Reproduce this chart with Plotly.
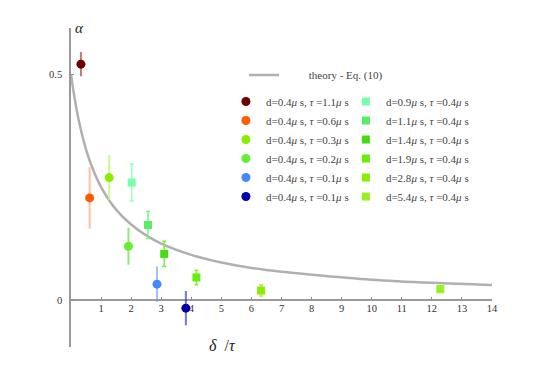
import plotly.graph_objects as go

# theory curve
theory_x = [0, 0.1, 0.25, 0.5, 0.75, 1, 1.5, 2, 2.5, 3, 4, 5, 6, 7, 8, 10, 12, 14]
theory_y = [0.5, 0.455, 0.4, 0.333, 0.286, 0.25, 0.2, 0.167, 0.143, 0.125,
            0.1, 0.083, 0.071, 0.0625, 0.056, 0.045, 0.038, 0.033]

# circles: d = 0.4 us, varying tau
circle_names = [
    "d=0.4<i>μ</i> s, <i>τ</i> =1.1<i>μ</i> s",
    "d=0.4<i>μ</i> s, <i>τ</i> =0.6<i>μ</i> s",
    "d=0.4<i>μ</i> s, <i>τ</i> =0.3<i>μ</i> s",
    "d=0.4<i>μ</i> s, <i>τ</i> =0.2<i>μ</i> s",
    "d=0.4<i>μ</i> s, <i>τ</i> =0.1<i>μ</i> s",
    "d=0.4<i>μ</i> s, <i>τ</i> =0.1<i>μ</i> s",
]
circle_x = [0.33, 0.62, 1.27, 1.91, 2.86, 3.82]
circle_y = [0.522, 0.226, 0.271, 0.119, 0.035, -0.018]
circle_err = [0.027, 0.068, 0.05, 0.041, 0.039, 0.038]
circle_colors = ["#6e0000", "#ff5a00", "#88ee00", "#66ee33", "#4488ff", "#0000aa"]
circle_err_colors = ["rgba(180,60,60,0.7)", "rgba(255,150,100,0.6)",
                     "rgba(190,245,120,0.8)", "rgba(110,230,80,0.8)",
                     "rgba(100,150,255,0.6)", "rgba(60,60,200,0.7)"]

# squares: tau = 0.4 us, varying d
square_names = [
    "d=0.9<i>μ</i> s, <i>τ</i> =0.4<i>μ</i> s",
    "d=1.1<i>μ</i> s, <i>τ</i> =0.4<i>μ</i> s",
    "d=1.4<i>μ</i> s, <i>τ</i> =0.4<i>μ</i> s",
    "d=1.9<i>μ</i> s, <i>τ</i> =0.4<i>μ</i> s",
    "d=2.8<i>μ</i> s, <i>τ</i> =0.4<i>μ</i> s",
    "d=5.4<i>μ</i> s, <i>τ</i> =0.4<i>μ</i> s",
]
square_x = [2.02, 2.56, 3.1, 4.17, 6.32, 12.28]
square_y = [0.26, 0.166, 0.102, 0.05, 0.021, 0.024]
square_err = [0.041, 0.03, 0.028, 0.016, 0.012, 0.007]
square_colors = ["#77ffaa", "#55ee66", "#44dd11", "#66ee11", "#88ee00", "#99f020"]
square_err_colors = ["#99ffbb", "#88ee88", "#77ee44", "#88ee33", "#aaf033", "#bbf060"]

fig = go.Figure()

fig.add_trace(go.Scatter(
    x=theory_x, y=theory_y, mode="lines", line_shape="spline",
    line=dict(color="#b0b0b0", width=2.5),
    name="         theory - Eq. (10)", legend="legend",
))

for name, x, y, e, c, ec in zip(circle_names, circle_x, circle_y, circle_err,
                                circle_colors, circle_err_colors):
    fig.add_trace(go.Scatter(
        x=[x], y=[y], mode="markers", name=name, legend="legend2",
        marker=dict(symbol="circle", size=9, color=c),
        error_y=dict(type="constant", value=e, color=ec, thickness=2, width=0),
    ))

for name, x, y, e, c, ec in zip(square_names, square_x, square_y, square_err,
                                square_colors, square_err_colors):
    fig.add_trace(go.Scatter(
        x=[x], y=[y], mode="markers", name=name, legend="legend3",
        marker=dict(symbol="square", size=8, color=c),
        error_y=dict(type="constant", value=e, color=ec, thickness=1.5, width=2),
    ))

legend_style = dict(
    bgcolor="rgba(0,0,0,0)", tracegroupgap=0, itemwidth=30,
    font=dict(family="Liberation Serif", size=11, color="#444444"),
    xanchor="left", yanchor="top",
)

# the page puts the figure 8px in from the top-left corner
fig.update_layout(
    width=537, height=382,
    margin=dict(l=63, r=53, t=20, b=43),
    paper_bgcolor="white", plot_bgcolor="white",
    font=dict(family="Liberation Serif", size=11, color="#444444"),
    showlegend=True,
    legend=dict(x=0.411, y=0.898, **legend_style),
    legend2=dict(x=0.368, y=0.815, **legend_style),
    legend3=dict(x=0.653, y=0.815, **legend_style),
    xaxis=dict(
        range=[0, 14], tickvals=list(range(1, 15)), ticks="inside", ticklen=3,
        tickcolor="#888888", showgrid=False, zeroline=False, showline=False,
        anchor="free", position=0.104 / 0.706,
        tickfont=dict(size=10.5, color="#333333"),
    ),
    yaxis=dict(
        range=[-0.104, 0.602], tickvals=[0, 0.5], ticktext=["0", "0.5"],
        ticks="inside", ticklen=3, tickcolor="#888888", showgrid=False,
        zeroline=True, zerolinecolor="#999999", zerolinewidth=1.5,
        showline=True, linecolor="#999999", linewidth=1.5,
        ticklabelstandoff=5,
        tickfont=dict(size=10.5, color="#333333"),
    ),
    annotations=[
        dict(text="<i>α</i>", x=0.021, xref="paper", y=1.0, yref="paper",
             showarrow=False, xanchor="center", yanchor="middle",
             font=dict(size=15, color="#222222")),
        dict(text="<i>δ</i>  /<i>τ</i>", x=0.36, xref="paper", y=0.006,
             yref="paper", showarrow=False, xanchor="center", yanchor="middle",
             font=dict(size=16, color="#222222")),
    ],
)

fig.write_html("out.html")
